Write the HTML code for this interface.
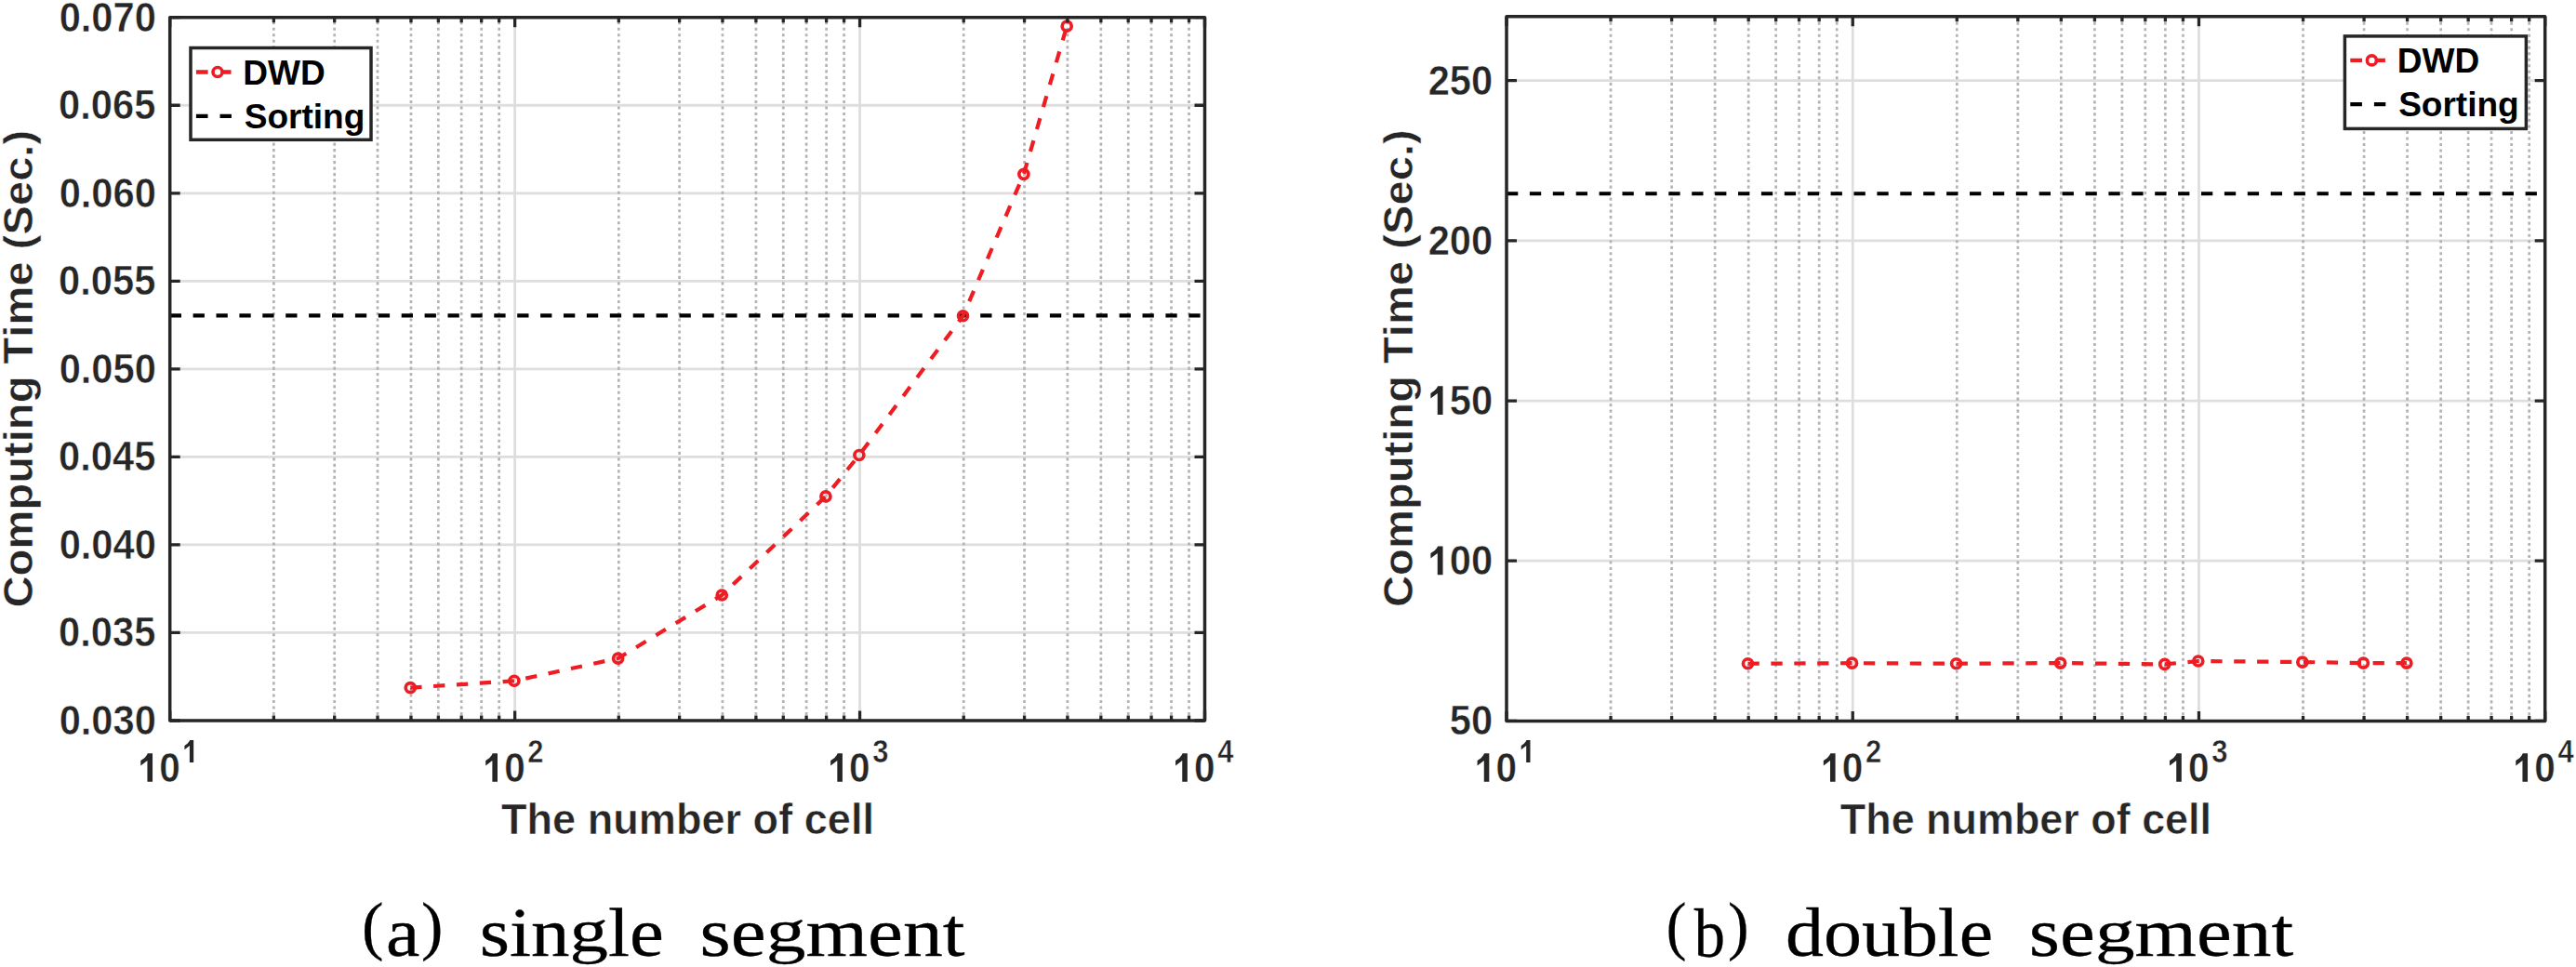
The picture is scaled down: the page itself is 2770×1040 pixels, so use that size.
<!DOCTYPE html>
<html><head><meta charset="utf-8"><style>
html,body{margin:0;padding:0;background:#fff;width:2770px;height:1040px;overflow:hidden}
svg{display:block}
text{font-kerning:none}
.tk{font-family:"Liberation Sans",sans-serif;font-weight:bold;fill:#262626;stroke:#fff;stroke-width:0.5px}
.lab{font-family:"Liberation Sans",sans-serif;font-weight:bold;fill:#262626;stroke:#fff;stroke-width:0.5px}
.leg{font-family:"Liberation Sans",sans-serif;font-weight:bold;fill:#000}
.cap{font-family:"Liberation Serif",serif;fill:#000;stroke:#000;stroke-width:0.3px}
</style></head><body>
<svg width="2770" height="1040" viewBox="0 0 2770 1040">
<rect width="2770" height="1040" fill="#fff"/>
<line x1="182.70" y1="680.46" x2="1295.50" y2="680.46" stroke="#dedede" stroke-width="2.8"/>
<line x1="182.70" y1="585.92" x2="1295.50" y2="585.92" stroke="#dedede" stroke-width="2.8"/>
<line x1="182.70" y1="491.39" x2="1295.50" y2="491.39" stroke="#dedede" stroke-width="2.8"/>
<line x1="182.70" y1="396.85" x2="1295.50" y2="396.85" stroke="#dedede" stroke-width="2.8"/>
<line x1="182.70" y1="302.31" x2="1295.50" y2="302.31" stroke="#dedede" stroke-width="2.8"/>
<line x1="182.70" y1="207.78" x2="1295.50" y2="207.78" stroke="#dedede" stroke-width="2.8"/>
<line x1="182.70" y1="113.24" x2="1295.50" y2="113.24" stroke="#dedede" stroke-width="2.8"/>
<line x1="294.36" y1="775.00" x2="294.36" y2="18.70" stroke="#b4b4b4" stroke-width="2.7" stroke-dasharray="3.1 3.415" stroke-dashoffset="0.55"/>
<line x1="359.68" y1="775.00" x2="359.68" y2="18.70" stroke="#b4b4b4" stroke-width="2.7" stroke-dasharray="3.1 3.415" stroke-dashoffset="0.55"/>
<line x1="406.02" y1="775.00" x2="406.02" y2="18.70" stroke="#b4b4b4" stroke-width="2.7" stroke-dasharray="3.1 3.415" stroke-dashoffset="0.55"/>
<line x1="441.97" y1="775.00" x2="441.97" y2="18.70" stroke="#b4b4b4" stroke-width="2.7" stroke-dasharray="3.1 3.415" stroke-dashoffset="0.55"/>
<line x1="471.34" y1="775.00" x2="471.34" y2="18.70" stroke="#b4b4b4" stroke-width="2.7" stroke-dasharray="3.1 3.415" stroke-dashoffset="0.55"/>
<line x1="496.18" y1="775.00" x2="496.18" y2="18.70" stroke="#b4b4b4" stroke-width="2.7" stroke-dasharray="3.1 3.415" stroke-dashoffset="0.55"/>
<line x1="517.69" y1="775.00" x2="517.69" y2="18.70" stroke="#b4b4b4" stroke-width="2.7" stroke-dasharray="3.1 3.415" stroke-dashoffset="0.55"/>
<line x1="536.66" y1="775.00" x2="536.66" y2="18.70" stroke="#b4b4b4" stroke-width="2.7" stroke-dasharray="3.1 3.415" stroke-dashoffset="0.55"/>
<line x1="665.30" y1="775.00" x2="665.30" y2="18.70" stroke="#b4b4b4" stroke-width="2.7" stroke-dasharray="3.1 3.415" stroke-dashoffset="0.55"/>
<line x1="730.61" y1="775.00" x2="730.61" y2="18.70" stroke="#b4b4b4" stroke-width="2.7" stroke-dasharray="3.1 3.415" stroke-dashoffset="0.55"/>
<line x1="776.96" y1="775.00" x2="776.96" y2="18.70" stroke="#b4b4b4" stroke-width="2.7" stroke-dasharray="3.1 3.415" stroke-dashoffset="0.55"/>
<line x1="812.90" y1="775.00" x2="812.90" y2="18.70" stroke="#b4b4b4" stroke-width="2.7" stroke-dasharray="3.1 3.415" stroke-dashoffset="0.55"/>
<line x1="842.28" y1="775.00" x2="842.28" y2="18.70" stroke="#b4b4b4" stroke-width="2.7" stroke-dasharray="3.1 3.415" stroke-dashoffset="0.55"/>
<line x1="867.11" y1="775.00" x2="867.11" y2="18.70" stroke="#b4b4b4" stroke-width="2.7" stroke-dasharray="3.1 3.415" stroke-dashoffset="0.55"/>
<line x1="888.62" y1="775.00" x2="888.62" y2="18.70" stroke="#b4b4b4" stroke-width="2.7" stroke-dasharray="3.1 3.415" stroke-dashoffset="0.55"/>
<line x1="907.59" y1="775.00" x2="907.59" y2="18.70" stroke="#b4b4b4" stroke-width="2.7" stroke-dasharray="3.1 3.415" stroke-dashoffset="0.55"/>
<line x1="1036.23" y1="775.00" x2="1036.23" y2="18.70" stroke="#b4b4b4" stroke-width="2.7" stroke-dasharray="3.1 3.415" stroke-dashoffset="0.55"/>
<line x1="1101.55" y1="775.00" x2="1101.55" y2="18.70" stroke="#b4b4b4" stroke-width="2.7" stroke-dasharray="3.1 3.415" stroke-dashoffset="0.55"/>
<line x1="1147.89" y1="775.00" x2="1147.89" y2="18.70" stroke="#b4b4b4" stroke-width="2.7" stroke-dasharray="3.1 3.415" stroke-dashoffset="0.55"/>
<line x1="1183.84" y1="775.00" x2="1183.84" y2="18.70" stroke="#b4b4b4" stroke-width="2.7" stroke-dasharray="3.1 3.415" stroke-dashoffset="0.55"/>
<line x1="1213.21" y1="775.00" x2="1213.21" y2="18.70" stroke="#b4b4b4" stroke-width="2.7" stroke-dasharray="3.1 3.415" stroke-dashoffset="0.55"/>
<line x1="1238.04" y1="775.00" x2="1238.04" y2="18.70" stroke="#b4b4b4" stroke-width="2.7" stroke-dasharray="3.1 3.415" stroke-dashoffset="0.55"/>
<line x1="1259.55" y1="775.00" x2="1259.55" y2="18.70" stroke="#b4b4b4" stroke-width="2.7" stroke-dasharray="3.1 3.415" stroke-dashoffset="0.55"/>
<line x1="1278.53" y1="775.00" x2="1278.53" y2="18.70" stroke="#b4b4b4" stroke-width="2.7" stroke-dasharray="3.1 3.415" stroke-dashoffset="0.55"/>
<line x1="553.63" y1="18.70" x2="553.63" y2="775.00" stroke="#dedede" stroke-width="2.8"/>
<line x1="924.57" y1="18.70" x2="924.57" y2="775.00" stroke="#dedede" stroke-width="2.8"/>
<line x1="182.70" y1="339.37" x2="1295.50" y2="339.37" stroke="#000" stroke-width="4.2" stroke-dasharray="12.3 12.6"/>
<polyline points="441.27,739.64 552.93,732.27 664.60,708.07 776.26,640.00 887.92,533.93 923.87,489.50 1035.53,339.75 1100.85,187.35 1147.19,28.15" fill="none" stroke="#ee1d23" stroke-width="4.2" stroke-dasharray="12.3 12.6"/>
<circle cx="441.27" cy="739.64" r="5.0" fill="none" stroke="#ee1d23" stroke-width="3.7"/>
<circle cx="552.93" cy="732.27" r="5.0" fill="none" stroke="#ee1d23" stroke-width="3.7"/>
<circle cx="664.60" cy="708.07" r="5.0" fill="none" stroke="#ee1d23" stroke-width="3.7"/>
<circle cx="776.26" cy="640.00" r="5.0" fill="none" stroke="#ee1d23" stroke-width="3.7"/>
<circle cx="887.92" cy="533.93" r="5.0" fill="none" stroke="#ee1d23" stroke-width="3.7"/>
<circle cx="923.87" cy="489.50" r="5.0" fill="none" stroke="#ee1d23" stroke-width="3.7"/>
<circle cx="1035.53" cy="339.75" r="5.0" fill="none" stroke="#ee1d23" stroke-width="3.7"/>
<circle cx="1100.85" cy="187.35" r="5.0" fill="none" stroke="#ee1d23" stroke-width="3.7"/>
<circle cx="1147.19" cy="28.15" r="5.0" fill="none" stroke="#ee1d23" stroke-width="3.7"/>
<path d="M182.70 775.00V764.50M182.70 18.70V29.20M553.63 775.00V764.50M553.63 18.70V29.20M924.57 775.00V764.50M924.57 18.70V29.20M1295.50 775.00V764.50M1295.50 18.70V29.20M294.36 775.00V769.50M294.36 18.70V24.20M359.68 775.00V769.50M359.68 18.70V24.20M406.02 775.00V769.50M406.02 18.70V24.20M441.97 775.00V769.50M441.97 18.70V24.20M471.34 775.00V769.50M471.34 18.70V24.20M496.18 775.00V769.50M496.18 18.70V24.20M517.69 775.00V769.50M517.69 18.70V24.20M536.66 775.00V769.50M536.66 18.70V24.20M665.30 775.00V769.50M665.30 18.70V24.20M730.61 775.00V769.50M730.61 18.70V24.20M776.96 775.00V769.50M776.96 18.70V24.20M812.90 775.00V769.50M812.90 18.70V24.20M842.28 775.00V769.50M842.28 18.70V24.20M867.11 775.00V769.50M867.11 18.70V24.20M888.62 775.00V769.50M888.62 18.70V24.20M907.59 775.00V769.50M907.59 18.70V24.20M1036.23 775.00V769.50M1036.23 18.70V24.20M1101.55 775.00V769.50M1101.55 18.70V24.20M1147.89 775.00V769.50M1147.89 18.70V24.20M1183.84 775.00V769.50M1183.84 18.70V24.20M1213.21 775.00V769.50M1213.21 18.70V24.20M1238.04 775.00V769.50M1238.04 18.70V24.20M1259.55 775.00V769.50M1259.55 18.70V24.20M1278.53 775.00V769.50M1278.53 18.70V24.20M182.70 775.00H193.70M1295.50 775.00H1284.50M182.70 680.46H193.70M1295.50 680.46H1284.50M182.70 585.92H193.70M1295.50 585.92H1284.50M182.70 491.39H193.70M1295.50 491.39H1284.50M182.70 396.85H193.70M1295.50 396.85H1284.50M182.70 302.31H193.70M1295.50 302.31H1284.50M182.70 207.78H193.70M1295.50 207.78H1284.50M182.70 113.24H193.70M1295.50 113.24H1284.50M182.70 18.70H193.70M1295.50 18.70H1284.50" stroke="#262626" stroke-width="3.3" fill="none"/>
<rect x="182.70" y="18.70" width="1112.80" height="756.30" fill="none" stroke="#262626" stroke-width="3.5" stroke-linejoin="round"/>
<text class="tk" font-size="44.000" transform="translate(63.64,790.00) scale(0.9470,1)">0.030</text>
<text class="tk" font-size="44.000" transform="translate(63.09,695.46) scale(0.9470,1)">0.035</text>
<text class="tk" font-size="44.000" transform="translate(63.64,600.92) scale(0.9470,1)">0.040</text>
<text class="tk" font-size="44.000" transform="translate(63.09,506.39) scale(0.9470,1)">0.045</text>
<text class="tk" font-size="44.000" transform="translate(63.64,411.85) scale(0.9470,1)">0.050</text>
<text class="tk" font-size="44.000" transform="translate(63.09,317.31) scale(0.9470,1)">0.055</text>
<text class="tk" font-size="44.000" transform="translate(63.64,222.78) scale(0.9470,1)">0.060</text>
<text class="tk" font-size="44.000" transform="translate(63.09,128.24) scale(0.9470,1)">0.065</text>
<text class="tk" font-size="44.000" transform="translate(63.64,33.70) scale(0.9470,1)">0.070</text>
<polygon points="164.05,810.35 164.05,840.87 158.46,840.87 158.46,817.98 151.29,823.43 151.29,817.98 155.34,815.15 157.77,812.32 158.78,810.35" fill="#262626"/>
<text class="tk" font-size="43.600" transform="translate(171.20,840.87) scale(0.9300,1)">0</text>
<polygon points="208.17,795.96 208.17,819.90 203.90,819.90 203.90,801.94 198.42,806.22 198.42,801.94 201.51,799.72 203.37,797.50 204.15,795.96" fill="#262626"/>
<polygon points="534.99,810.35 534.99,840.87 529.39,840.87 529.39,817.98 522.23,823.43 522.23,817.98 526.27,815.15 528.70,812.32 529.72,810.35" fill="#262626"/>
<text class="tk" font-size="43.600" transform="translate(542.13,840.87) scale(0.9300,1)">0</text>
<text class="tk" font-size="34.2" transform="translate(567.33,819.9) scale(0.906,1)">2</text>
<polygon points="905.92,810.35 905.92,840.87 900.33,840.87 900.33,817.98 893.16,823.43 893.16,817.98 897.20,815.15 899.64,812.32 900.65,810.35" fill="#262626"/>
<text class="tk" font-size="43.600" transform="translate(913.06,840.87) scale(0.9300,1)">0</text>
<text class="tk" font-size="34.2" transform="translate(938.27,819.9) scale(0.906,1)">3</text>
<polygon points="1276.85,810.35 1276.85,840.87 1271.26,840.87 1271.26,817.98 1264.09,823.43 1264.09,817.98 1268.14,815.15 1270.57,812.32 1271.58,810.35" fill="#262626"/>
<text class="tk" font-size="43.600" transform="translate(1284.00,840.87) scale(0.9300,1)">0</text>
<text class="tk" font-size="34.2" transform="translate(1309.20,819.9) scale(0.906,1)">4</text>
<text class="lab" font-size="46.434" transform="translate(538.99,896.85) scale(0.9716,1.0000)">The number of cell</text>
<text class="lab" font-size="43.886" transform="translate(35.20,653.44) rotate(-90) scale(1.0753,1)">Computing Time (Sec.)</text>
<rect x="205.00" y="51.50" width="194.00" height="98.80" fill="#fff" stroke="#262626" stroke-width="3.5"/>
<path d="M210.90 77.50H223.60M236.30 77.50H248.50" stroke="#ee1d23" stroke-width="4.3"/>
<circle cx="234.00" cy="77.50" r="5.0" fill="#fff" stroke="#ee1d23" stroke-width="3.6"/>
<path d="M210.90 124.80H223.50M236.50 124.80H248.90" stroke="#000" stroke-width="4.2"/>
<text class="leg" font-size="37.800" transform="translate(261.32,90.60) scale(0.9800,1.0000)">DWD</text>
<text class="leg" font-size="37.800" transform="translate(262.73,137.79) scale(0.9800,1.0000)">Sorting</text>
<line x1="1620.00" y1="603.22" x2="2736.70" y2="603.22" stroke="#dedede" stroke-width="2.8"/>
<line x1="1620.00" y1="431.04" x2="2736.70" y2="431.04" stroke="#dedede" stroke-width="2.8"/>
<line x1="1620.00" y1="258.85" x2="2736.70" y2="258.85" stroke="#dedede" stroke-width="2.8"/>
<line x1="1620.00" y1="86.67" x2="2736.70" y2="86.67" stroke="#dedede" stroke-width="2.8"/>
<line x1="1732.05" y1="775.40" x2="1732.05" y2="17.80" stroke="#b4b4b4" stroke-width="2.7" stroke-dasharray="3.1 3.415" stroke-dashoffset="0.55"/>
<line x1="1797.60" y1="775.40" x2="1797.60" y2="17.80" stroke="#b4b4b4" stroke-width="2.7" stroke-dasharray="3.1 3.415" stroke-dashoffset="0.55"/>
<line x1="1844.11" y1="775.40" x2="1844.11" y2="17.80" stroke="#b4b4b4" stroke-width="2.7" stroke-dasharray="3.1 3.415" stroke-dashoffset="0.55"/>
<line x1="1880.18" y1="775.40" x2="1880.18" y2="17.80" stroke="#b4b4b4" stroke-width="2.7" stroke-dasharray="3.1 3.415" stroke-dashoffset="0.55"/>
<line x1="1909.65" y1="775.40" x2="1909.65" y2="17.80" stroke="#b4b4b4" stroke-width="2.7" stroke-dasharray="3.1 3.415" stroke-dashoffset="0.55"/>
<line x1="1934.57" y1="775.40" x2="1934.57" y2="17.80" stroke="#b4b4b4" stroke-width="2.7" stroke-dasharray="3.1 3.415" stroke-dashoffset="0.55"/>
<line x1="1956.16" y1="775.40" x2="1956.16" y2="17.80" stroke="#b4b4b4" stroke-width="2.7" stroke-dasharray="3.1 3.415" stroke-dashoffset="0.55"/>
<line x1="1975.20" y1="775.40" x2="1975.20" y2="17.80" stroke="#b4b4b4" stroke-width="2.7" stroke-dasharray="3.1 3.415" stroke-dashoffset="0.55"/>
<line x1="2104.29" y1="775.40" x2="2104.29" y2="17.80" stroke="#b4b4b4" stroke-width="2.7" stroke-dasharray="3.1 3.415" stroke-dashoffset="0.55"/>
<line x1="2169.83" y1="775.40" x2="2169.83" y2="17.80" stroke="#b4b4b4" stroke-width="2.7" stroke-dasharray="3.1 3.415" stroke-dashoffset="0.55"/>
<line x1="2216.34" y1="775.40" x2="2216.34" y2="17.80" stroke="#b4b4b4" stroke-width="2.7" stroke-dasharray="3.1 3.415" stroke-dashoffset="0.55"/>
<line x1="2252.41" y1="775.40" x2="2252.41" y2="17.80" stroke="#b4b4b4" stroke-width="2.7" stroke-dasharray="3.1 3.415" stroke-dashoffset="0.55"/>
<line x1="2281.89" y1="775.40" x2="2281.89" y2="17.80" stroke="#b4b4b4" stroke-width="2.7" stroke-dasharray="3.1 3.415" stroke-dashoffset="0.55"/>
<line x1="2306.81" y1="775.40" x2="2306.81" y2="17.80" stroke="#b4b4b4" stroke-width="2.7" stroke-dasharray="3.1 3.415" stroke-dashoffset="0.55"/>
<line x1="2328.39" y1="775.40" x2="2328.39" y2="17.80" stroke="#b4b4b4" stroke-width="2.7" stroke-dasharray="3.1 3.415" stroke-dashoffset="0.55"/>
<line x1="2347.43" y1="775.40" x2="2347.43" y2="17.80" stroke="#b4b4b4" stroke-width="2.7" stroke-dasharray="3.1 3.415" stroke-dashoffset="0.55"/>
<line x1="2476.52" y1="775.40" x2="2476.52" y2="17.80" stroke="#b4b4b4" stroke-width="2.7" stroke-dasharray="3.1 3.415" stroke-dashoffset="0.55"/>
<line x1="2542.07" y1="775.40" x2="2542.07" y2="17.80" stroke="#b4b4b4" stroke-width="2.7" stroke-dasharray="3.1 3.415" stroke-dashoffset="0.55"/>
<line x1="2588.57" y1="775.40" x2="2588.57" y2="17.80" stroke="#b4b4b4" stroke-width="2.7" stroke-dasharray="3.1 3.415" stroke-dashoffset="0.55"/>
<line x1="2624.65" y1="775.40" x2="2624.65" y2="17.80" stroke="#b4b4b4" stroke-width="2.7" stroke-dasharray="3.1 3.415" stroke-dashoffset="0.55"/>
<line x1="2654.12" y1="775.40" x2="2654.12" y2="17.80" stroke="#b4b4b4" stroke-width="2.7" stroke-dasharray="3.1 3.415" stroke-dashoffset="0.55"/>
<line x1="2679.04" y1="775.40" x2="2679.04" y2="17.80" stroke="#b4b4b4" stroke-width="2.7" stroke-dasharray="3.1 3.415" stroke-dashoffset="0.55"/>
<line x1="2700.63" y1="775.40" x2="2700.63" y2="17.80" stroke="#b4b4b4" stroke-width="2.7" stroke-dasharray="3.1 3.415" stroke-dashoffset="0.55"/>
<line x1="2719.67" y1="775.40" x2="2719.67" y2="17.80" stroke="#b4b4b4" stroke-width="2.7" stroke-dasharray="3.1 3.415" stroke-dashoffset="0.55"/>
<line x1="1992.23" y1="17.80" x2="1992.23" y2="775.40" stroke="#dedede" stroke-width="2.8"/>
<line x1="2364.47" y1="17.80" x2="2364.47" y2="775.40" stroke="#dedede" stroke-width="2.8"/>
<line x1="1620.00" y1="208.23" x2="2736.70" y2="208.23" stroke="#000" stroke-width="4.2" stroke-dasharray="12.3 12.6"/>
<polyline points="1879.48,713.76 1991.53,713.21 2103.59,713.76 2215.64,713.07 2327.69,714.45 2363.77,711.00 2475.82,712.04 2541.37,713.07 2587.87,713.07" fill="none" stroke="#ee1d23" stroke-width="4.2" stroke-dasharray="12.3 12.6"/>
<circle cx="1879.48" cy="713.76" r="5.0" fill="none" stroke="#ee1d23" stroke-width="3.7"/>
<circle cx="1991.53" cy="713.21" r="5.0" fill="none" stroke="#ee1d23" stroke-width="3.7"/>
<circle cx="2103.59" cy="713.76" r="5.0" fill="none" stroke="#ee1d23" stroke-width="3.7"/>
<circle cx="2215.64" cy="713.07" r="5.0" fill="none" stroke="#ee1d23" stroke-width="3.7"/>
<circle cx="2327.69" cy="714.45" r="5.0" fill="none" stroke="#ee1d23" stroke-width="3.7"/>
<circle cx="2363.77" cy="711.00" r="5.0" fill="none" stroke="#ee1d23" stroke-width="3.7"/>
<circle cx="2475.82" cy="712.04" r="5.0" fill="none" stroke="#ee1d23" stroke-width="3.7"/>
<circle cx="2541.37" cy="713.07" r="5.0" fill="none" stroke="#ee1d23" stroke-width="3.7"/>
<circle cx="2587.87" cy="713.07" r="5.0" fill="none" stroke="#ee1d23" stroke-width="3.7"/>
<path d="M1620.00 775.40V764.90M1620.00 17.80V28.30M1992.23 775.40V764.90M1992.23 17.80V28.30M2364.47 775.40V764.90M2364.47 17.80V28.30M2736.70 775.40V764.90M2736.70 17.80V28.30M1732.05 775.40V769.90M1732.05 17.80V23.30M1797.60 775.40V769.90M1797.60 17.80V23.30M1844.11 775.40V769.90M1844.11 17.80V23.30M1880.18 775.40V769.90M1880.18 17.80V23.30M1909.65 775.40V769.90M1909.65 17.80V23.30M1934.57 775.40V769.90M1934.57 17.80V23.30M1956.16 775.40V769.90M1956.16 17.80V23.30M1975.20 775.40V769.90M1975.20 17.80V23.30M2104.29 775.40V769.90M2104.29 17.80V23.30M2169.83 775.40V769.90M2169.83 17.80V23.30M2216.34 775.40V769.90M2216.34 17.80V23.30M2252.41 775.40V769.90M2252.41 17.80V23.30M2281.89 775.40V769.90M2281.89 17.80V23.30M2306.81 775.40V769.90M2306.81 17.80V23.30M2328.39 775.40V769.90M2328.39 17.80V23.30M2347.43 775.40V769.90M2347.43 17.80V23.30M2476.52 775.40V769.90M2476.52 17.80V23.30M2542.07 775.40V769.90M2542.07 17.80V23.30M2588.57 775.40V769.90M2588.57 17.80V23.30M2624.65 775.40V769.90M2624.65 17.80V23.30M2654.12 775.40V769.90M2654.12 17.80V23.30M2679.04 775.40V769.90M2679.04 17.80V23.30M2700.63 775.40V769.90M2700.63 17.80V23.30M2719.67 775.40V769.90M2719.67 17.80V23.30M1620.00 775.40H1631.00M2736.70 775.40H2725.70M1620.00 603.22H1631.00M2736.70 603.22H2725.70M1620.00 431.04H1631.00M2736.70 431.04H2725.70M1620.00 258.85H1631.00M2736.70 258.85H2725.70M1620.00 86.67H1631.00M2736.70 86.67H2725.70" stroke="#262626" stroke-width="3.3" fill="none"/>
<rect x="1620.00" y="17.80" width="1116.70" height="757.60" fill="none" stroke="#262626" stroke-width="3.5" stroke-linejoin="round"/>
<text class="tk" font-size="44.000" transform="translate(1558.86,790.40) scale(0.9470,1)">50</text>
<polygon points="1551.52,587.42 1551.52,618.22 1545.77,618.22 1545.77,595.12 1538.41,600.62 1538.41,595.12 1542.56,592.26 1545.06,589.40 1546.10,587.42" fill="#262626"/>
<text class="tk" font-size="44.000" transform="translate(1558.86,618.22) scale(0.9470,1)">00</text>
<polygon points="1551.52,415.24 1551.52,446.04 1545.77,446.04 1545.77,422.94 1538.41,428.44 1538.41,422.94 1542.56,420.08 1545.06,417.22 1546.10,415.24" fill="#262626"/>
<text class="tk" font-size="44.000" transform="translate(1558.86,446.04) scale(0.9470,1)">50</text>
<text class="tk" font-size="44.000" transform="translate(1535.69,273.85) scale(0.9470,1)">200</text>
<text class="tk" font-size="44.000" transform="translate(1535.69,101.67) scale(0.9470,1)">250</text>
<polygon points="1601.35,810.35 1601.35,840.87 1595.76,840.87 1595.76,817.98 1588.59,823.43 1588.59,817.98 1592.64,815.15 1595.07,812.32 1596.08,810.35" fill="#262626"/>
<text class="tk" font-size="43.600" transform="translate(1608.50,840.87) scale(0.9300,1)">0</text>
<polygon points="1645.47,795.96 1645.47,819.90 1641.20,819.90 1641.20,801.94 1635.72,806.22 1635.72,801.94 1638.81,799.72 1640.67,797.50 1641.45,795.96" fill="#262626"/>
<polygon points="1973.59,810.35 1973.59,840.87 1967.99,840.87 1967.99,817.98 1960.83,823.43 1960.83,817.98 1964.87,815.15 1967.30,812.32 1968.32,810.35" fill="#262626"/>
<text class="tk" font-size="43.600" transform="translate(1980.73,840.87) scale(0.9300,1)">0</text>
<text class="tk" font-size="34.2" transform="translate(2005.93,819.9) scale(0.906,1)">2</text>
<polygon points="2345.82,810.35 2345.82,840.87 2340.23,840.87 2340.23,817.98 2333.06,823.43 2333.06,817.98 2337.10,815.15 2339.54,812.32 2340.55,810.35" fill="#262626"/>
<text class="tk" font-size="43.600" transform="translate(2352.96,840.87) scale(0.9300,1)">0</text>
<text class="tk" font-size="34.2" transform="translate(2378.17,819.9) scale(0.906,1)">3</text>
<polygon points="2718.05,810.35 2718.05,840.87 2712.46,840.87 2712.46,817.98 2705.29,823.43 2705.29,817.98 2709.34,815.15 2711.77,812.32 2712.78,810.35" fill="#262626"/>
<text class="tk" font-size="43.600" transform="translate(2725.20,840.87) scale(0.9300,1)">0</text>
<text class="tk" font-size="34.2" transform="translate(2750.40,819.9) scale(0.906,1)">4</text>
<text class="lab" font-size="46.026" transform="translate(1978.80,896.85) scale(0.9758,1.0000)">The number of cell</text>
<text class="lab" font-size="44.526" transform="translate(1519.46,652.94) rotate(-90) scale(1.0597,1)">Computing Time (Sec.)</text>
<rect x="2521.40" y="38.90" width="195.00" height="99.50" fill="#fff" stroke="#262626" stroke-width="3.5"/>
<path d="M2527.30 64.90H2540.00M2552.70 64.90H2564.90" stroke="#ee1d23" stroke-width="4.3"/>
<circle cx="2550.40" cy="64.90" r="5.0" fill="#fff" stroke="#ee1d23" stroke-width="3.6"/>
<path d="M2527.30 112.20H2539.90M2552.90 112.20H2565.30" stroke="#000" stroke-width="4.2"/>
<text class="leg" font-size="37.800" transform="translate(2577.72,78.00) scale(0.9800,1.0000)">DWD</text>
<text class="leg" font-size="37.800" transform="translate(2579.13,125.19) scale(0.9800,1.0000)">Sorting</text>
<text class="cap" font-size="69.259" transform="translate(388.90,1018.76) scale(1.0175,1.0000)">(</text>
<text class="cap" font-size="74.000" transform="translate(415.03,1028.00) scale(1.1050,1.0000)">a</text>
<text class="cap" font-size="69.259" transform="translate(452.94,1018.76) scale(1.0147,1.0000)">)</text>
<text class="cap" font-size="74.000" transform="translate(515.70,1027.90) scale(1.1212,1)">sin</text>
<text class="cap" font-size="74.000" transform="translate(612.52,1023.49) scale(1.1212,0.8838)">g</text>
<text class="cap" font-size="74.000" transform="translate(654.00,1027.90) scale(1.1212,1)">le</text>
<text class="cap" font-size="74.000" transform="translate(752.59,1027.90) scale(1.1553,1)">se</text>
<text class="cap" font-size="74.000" transform="translate(823.81,1023.06) scale(1.1553,0.8726)">g</text>
<text class="cap" font-size="74.000" transform="translate(866.56,1027.90) scale(1.1553,1)">ment</text>
<text class="cap" font-size="68.928" transform="translate(1791.64,1018.63) scale(0.9433,1.0000)">(</text>
<text class="cap" font-size="74.000" transform="translate(1821.80,1028.60) scale(0.8981,1.0000)">b</text>
<text class="cap" font-size="68.928" transform="translate(1858.02,1018.63) scale(0.9829,1.0000)">)</text>
<text class="cap" font-size="74.000" transform="translate(1919.94,1028.40) scale(1.1077,1.0000)">double</text>
<text class="cap" font-size="74.000" transform="translate(2181.80,1028.30) scale(1.1533,1)">se</text>
<text class="cap" font-size="74.000" transform="translate(2252.89,1022.83) scale(1.1533,0.8560)">g</text>
<text class="cap" font-size="74.000" transform="translate(2295.56,1028.30) scale(1.1533,1)">ment</text>
</svg></body></html>
